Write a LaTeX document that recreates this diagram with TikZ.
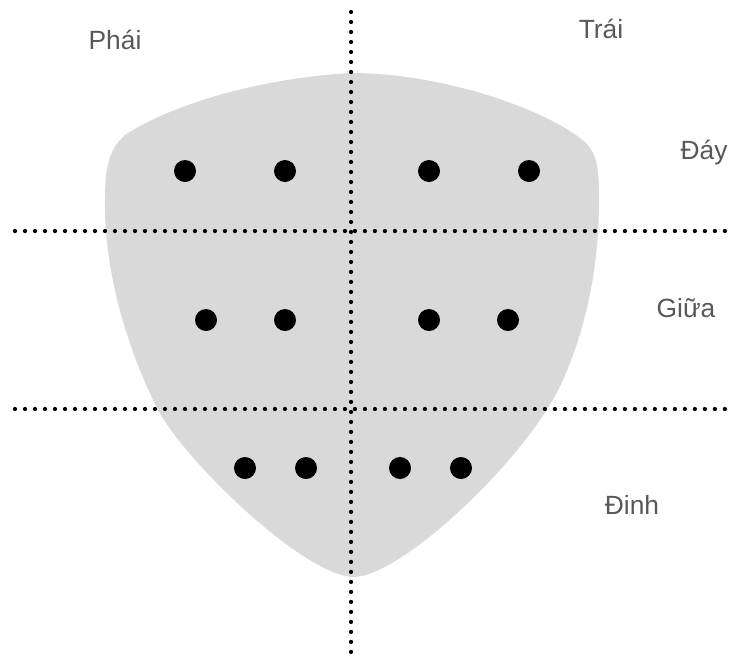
\documentclass[tikz,border=0pt]{standalone}
\usepackage{fontspec}
\setmainfont{Liberation Sans}
\definecolor{shieldgray}{RGB}{217,217,217}
\definecolor{labelgray}{RGB}{88,88,88}
\begin{document}
\begin{tikzpicture}
[x=0.02cm, y=-0.02cm,
black dot/.style={circle,fill=black,inner sep=0pt,minimum size=0.44cm},
divider/.style={line width=0.085cm,line cap=round,dash pattern=on 0pt off 0.2cm},
region label/.style={anchor=base,text=labelgray,font=\fontsize{15}{18}\selectfont}]
\useasboundingbox (0,0) rectangle (729,657);

% shield outline
\fill[shieldgray] (351,73) .. controls (440,73) and (545,108) .. (585,142)
  .. controls (598,155) and (599,170) .. (599,200)
  .. controls (599,270) and (585,330) .. (563,380)
  .. controls (530,455) and (405,574) .. (355,577)
  .. controls (305,578) and (182,458) .. (157,408)
  .. controls (132,358) and (104,280) .. (105,200)
  .. controls (105,170) and (108,150) .. (125,135)
  .. controls (170,105) and (260,78) .. (351,73) -- cycle;

\coordinate (top) at (351,12);
\coordinate (bottom) at (351,657);
\coordinate (upper left) at (15,231);
\coordinate (upper right) at (729,231);
\coordinate (lower left) at (15,409);
\coordinate (lower right) at (729,409);

\draw[divider] (top) -- (bottom);
\draw[divider] (upper left) -- (upper right);
\draw[divider] (lower left) -- (lower right);

\node[black dot] (d11) at (185,171) {};
\node[black dot] (d12) at (285,171) {};
\node[black dot] (d13) at (429,171) {};
\node[black dot] (d14) at (529,171) {};

\node[black dot] (d21) at (206,320) {};
\node[black dot] (d22) at (285,320) {};
\node[black dot] (d23) at (429,320) {};
\node[black dot] (d24) at (508,320) {};

\node[black dot] (d31) at (245,468) {};
\node[black dot] (d32) at (306,468) {};
\node[black dot] (d33) at (400,468) {};
\node[black dot] (d34) at (461,468) {};

\node[region label] (phai) at (115,49) {Phái};
\node[region label] (trai) at (601,38) {Trái};
\node[region label] (day) at (704,159) {Đáy};
\node[region label] (giua) at (686,317) {Giữa};
\node[region label] (dinh) at (632,514) {Đinh};
\end{tikzpicture}
\end{document}
